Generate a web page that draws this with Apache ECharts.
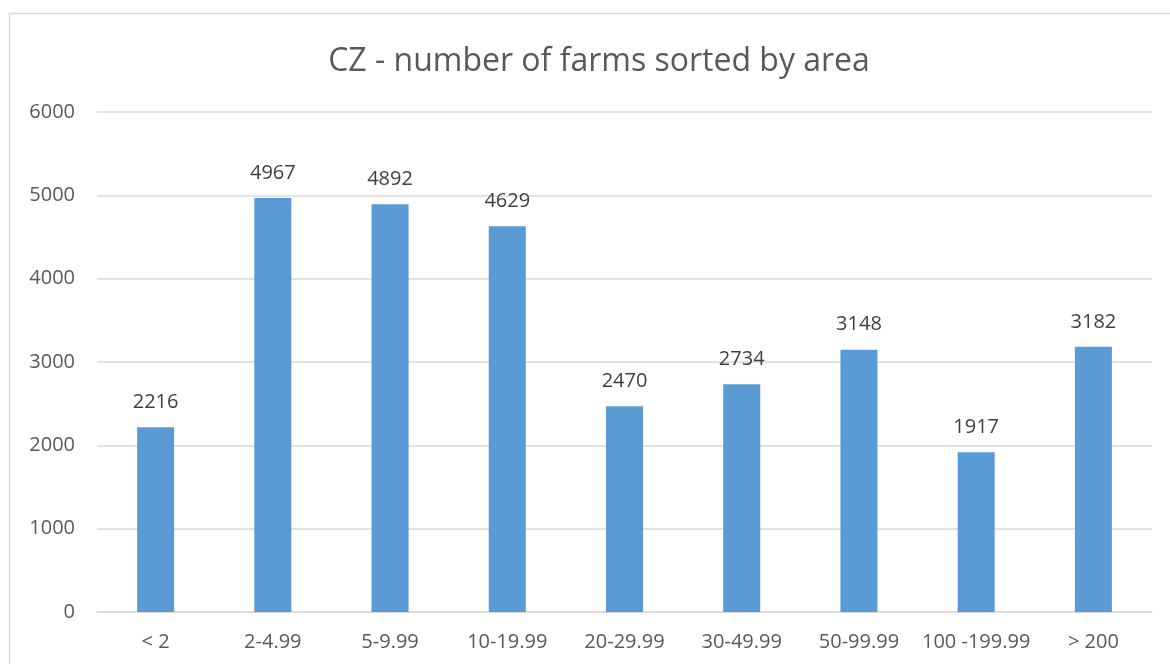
<!DOCTYPE html>
<html>
<head>
<meta charset="utf-8">
<script src="https://cdn.jsdelivr.net/npm/echarts@6/dist/echarts.min.js"></script>
<style>
  html, body { margin: 0; padding: 0; background: #ffffff; }
  #chart { width: 1170px; height: 664px; }
</style>
</head>
<body>
<div id="chart"></div>
<script>
// Farm size classes (hectares) and number of farms in each
const categories = ['< 2', '2-4.99', '5-9.99', '10-19.99', '20-29.99', '30-49.99', '50-99.99', '100 -199.99', '> 200'];
const farmCounts = [2216, 4967, 4892, 4629, 2470, 2734, 3148, 1917, 3182];
const yTicks = { min: 0, max: 6000, interval: 1000 };

const fontFamily = '"Open Sans", "Noto Sans", "Liberation Sans", sans-serif';

const chart = echarts.init(document.getElementById('chart'), null, { renderer: 'canvas' });
chart.setOption({
  backgroundColor: '#ffffff',
  animation: false,
  graphic: [{
    type: 'rect',
    shape: { x: 9.5, y: 13.5, width: 1200, height: 700 },
    style: { fill: 'none', stroke: '#d9d9d9', lineWidth: 1.5 },
    silent: true
  }],
  title: {
    text: 'CZ - number of farms sorted by area',
    left: 594,
    textAlign: 'center',
    top: 41,
    textStyle: { fontFamily, fontSize: 32, fontWeight: 'normal', color: '#595959' }
  },
  grid: { left: 97, right: 18, top: 112, bottom: 52, containLabel: false },
  xAxis: {
    type: 'category',
    data: categories,
    axisLine: { lineStyle: { color: '#d9d9d9', width: 1.5 } },
    axisTick: { show: false },
    axisLabel: { fontFamily, fontSize: 20, color: '#595959', margin: 20, interval: 0 }
  },
  yAxis: {
    type: 'value',
    min: yTicks.min,
    max: yTicks.max,
    interval: yTicks.interval,
    axisLine: { show: false },
    axisTick: { show: false },
    splitLine: { lineStyle: { color: '#d9d9d9', width: 1.5 } },
    axisLabel: {
      fontFamily, fontSize: 20, color: '#595959', margin: 22,
      formatter: (v) => String(v)
    }
  },
  series: [{
    type: 'bar',
    data: farmCounts,
    barWidth: '31.6%',
    itemStyle: { color: '#5b9bd5' },
    label: {
      show: true,
      position: 'top',
      distance: 15,
      fontFamily,
      fontSize: 20,
      color: '#404040'
    }
  }]
});
</script>
</body>
</html>
